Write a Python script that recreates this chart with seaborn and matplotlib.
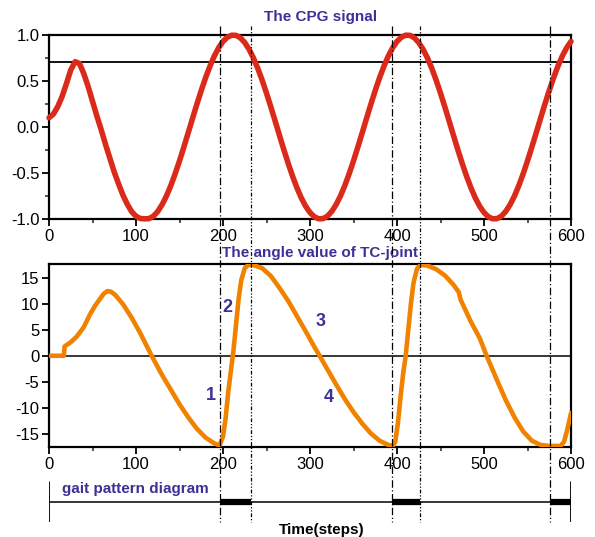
import matplotlib
matplotlib.use("Agg")
import matplotlib.pyplot as plt
import matplotlib.transforms as mtransforms
from matplotlib.ticker import MultipleLocator
import seaborn as sns
import pandas as pd

# ---------------- data ----------------
cpg_steps = list(range(0, 601, 5))
cpg_signal = [0.10, 0.14, 0.22, 0.33, 0.47, 0.62, 0.71, 0.69, 0.58, 0.44,
              0.28, 0.12, -0.03, -0.19, -0.34, -0.49, -0.62, -0.74, -0.84, -0.92,
              -0.97, -0.995,
              -0.998, -0.996, -0.969, -0.918, -0.844, -0.750, -0.637, -0.509,
              -0.368, -0.218, -0.063, 0.094, 0.249, 0.397, 0.536, 0.661, 0.771,
              0.861, 0.930, 0.976, 0.998, 0.996, 0.969, 0.918, 0.844, 0.750,
              0.637, 0.509, 0.368, 0.218, 0.063, -0.094, -0.249, -0.397, -0.536,
              -0.661, -0.771, -0.861, -0.930, -0.976,
              -0.998, -0.996, -0.969, -0.918, -0.844, -0.750, -0.637, -0.509,
              -0.368, -0.218, -0.063, 0.094, 0.249, 0.397, 0.536, 0.661, 0.771,
              0.861, 0.930, 0.976, 0.998, 0.996, 0.969, 0.918, 0.844, 0.750,
              0.637, 0.509, 0.368, 0.218, 0.063, -0.094, -0.249, -0.397, -0.536,
              -0.661, -0.771, -0.861, -0.930, -0.976,
              -0.998, -0.996, -0.969, -0.918, -0.844, -0.750, -0.637, -0.509,
              -0.368, -0.218, -0.063, 0.094, 0.249, 0.397, 0.536, 0.661, 0.771,
              0.861, 0.930]
cpg_threshold = 0.707

tc_steps = [0, 17, 18, 25, 32, 40, 47, 53, 59, 63, 67, 71, 76, 85, 95, 105, 118,
            130, 140, 150, 160, 170, 180, 190, 196, 200, 203, 206, 209, 212, 215,
            218, 221, 225, 229, 235, 245, 255, 265, 275, 285, 295, 305, 311, 320,
            330, 340, 350, 360, 370, 380, 390, 395, 398, 401, 404, 407, 410, 413,
            416, 419, 423, 427, 435, 445, 455, 465, 471, 473, 485, 495, 503, 515,
            525, 535, 545, 555, 565, 575, 588, 592, 596, 600]
tc_angle = [0.0, 0.0, 1.8, 2.6, 3.7, 5.5, 7.9, 9.6, 11.0, 11.9, 12.4, 12.3, 11.7,
            9.9, 7.3, 4.3, 0.0, -3.7, -6.5, -9.3, -11.8, -14.0, -15.7, -16.8,
            -17.2, -15.5, -12.0, -7.0, -3.0, 1.0, 6.0, 11.0, 14.5, 16.8, 17.4,
            17.4, 16.8, 15.3, 13.0, 10.5, 7.6, 4.7, 1.7, 0.0, -2.6, -5.5, -8.3,
            -10.8, -13.0, -14.9, -16.3, -17.1, -17.3, -16.5, -13.0, -8.0, -3.5,
            0.0, 5.0, 10.0, 14.0, 16.7, 17.4, 17.3, 16.6, 15.4, 13.6, 12.2, 10.8,
            6.5, 3.4, 0.0, -4.7, -8.5, -11.8, -14.5, -16.3, -17.1, -17.3, -17.3,
            -16.5, -14.0, -11.0]

phase_lines = [196, 232, 394, 427, 576]
stance_start = [196, 394, 576]
stance_end = [232, 427, 600]

phase_labels = ["1", "2", "3", "4"]
phase_label_x = [186, 205, 312, 322]
phase_label_y = [-7.7, 9.2, 6.5, -8.0]

x_ticks = [0, 100, 200, 300, 400, 500, 600]

# ---------------- style ----------------
sns.set_theme(style="ticks")
plt.rcParams["font.family"] = ["Liberation Sans", "DejaVu Sans"]
plt.rcParams["axes.unicode_minus"] = False
plt.rcParams["axes.linewidth"] = 1.6

TXT = "#3b3196"
RED = "#dc2a1a"
ORANGE = "#f08200"

fig = plt.figure(figsize=(5.95, 5.37), dpi=100)
W, H = 595, 537
L, R = 49, 571


def rect(top, bottom):
    return [L / W, 1 - bottom / H, (R - L) / W, (bottom - top) / H]


ax1 = fig.add_axes(rect(35, 219))
ax2 = fig.add_axes(rect(264, 447))
ax3 = fig.add_axes(rect(478, 522))

df1 = pd.DataFrame({"step": cpg_steps, "value": cpg_signal})
df2 = pd.DataFrame({"step": tc_steps, "angle": tc_angle})

sns.lineplot(data=df1, x="step", y="value", ax=ax1, color=RED, lw=4.0,
             clip_on=False, zorder=3)
ax1.axhline(cpg_threshold, color="black", lw=1.3, zorder=2)
sns.lineplot(data=df2, x="step", y="angle", ax=ax2, color=ORANGE, lw=3.3,
             zorder=3)
ax2.axhline(0, color="black", lw=1.1, zorder=2)

for ax in (ax1, ax2):
    ax.set_xlim(0, 600)
    ax.set_xticks(x_ticks)
    ax.set_xticklabels([str(t) for t in x_ticks])
    ax.xaxis.set_minor_locator(MultipleLocator(50))
    ax.set_xlabel("")
    ax.set_ylabel("")
    ax.tick_params(axis="both", which="major", direction="out", length=5,
                   width=1.3, labelsize=12, colors="black", pad=2)
    ax.tick_params(axis="both", which="minor", direction="out", length=3,
                   width=1.1)
    for s in ax.spines.values():
        s.set_visible(True)
        s.set_color("black")
    ax.set_facecolor("none")

ax1.set_ylim(-1, 1)
ax1.set_yticks([-1.0, -0.5, 0.0, 0.5, 1.0])
ax1.set_yticklabels(["-1.0", "-0.5", "0.0", "0.5", "1.0"])
ax1.yaxis.set_minor_locator(MultipleLocator(0.25))

ax2.set_ylim(-17.5, 17.6)
ax2.set_yticks([-15, -10, -5, 0, 5, 10, 15])
ax2.set_yticklabels(["-15", "-10", "-5", "0", "5", "10", "15"])

ax1.set_title("The CPG signal", color=TXT, fontsize=11, fontweight="bold",
              x=0.52, pad=10)
ax2.set_title("The angle value of TC-joint", color=TXT, fontsize=11,
              fontweight="bold", x=0.52, pad=5)

for lab, lx, ly in zip(phase_labels, phase_label_x, phase_label_y):
    ax2.text(lx, ly, lab, color=TXT, fontsize=13, fontweight="bold",
             ha="center", va="center")

# gait pattern diagram
ax3.set_xlim(0, 600)
ax3.set_ylim(0, 1)
ax3.axis("off")
ax3.plot([0, 600], [0.455, 0.455], color="black", lw=1.1)
ax3.plot([0, 0], [0, 0.9], color="black", lw=1.3)
ax3.plot([600, 600], [0, 0.9], color="black", lw=1.3)
for s0, s1 in zip(stance_start, stance_end):
    ax3.plot([s0, s1], [0.455, 0.455], color="black", lw=4.5,
             solid_capstyle="butt")
ax3.text(15, 0.75, "gait pattern diagram", color=TXT, fontsize=11,
         fontweight="bold", ha="left", va="center")

fig.text(322 / W, 1 - 530 / H, "Time(steps)", fontsize=11, fontweight="bold",
         ha="center", va="center", color="black")

# vertical phase lines across the whole figure
trans = mtransforms.blended_transform_factory(ax1.transData, fig.transFigure)
for i, xv in enumerate(phase_lines):
    dash = (6, 2, 1, 2) if i % 2 == 0 else (3, 1.5, 1, 1.5, 1, 1.5)
    ln = plt.Line2D([xv, xv], [1 - 26 / H, 1 - 522 / H], transform=trans,
                    color="black", lw=0.9, dashes=dash)
    fig.add_artist(ln)

fig.savefig("out.png", dpi=100)
